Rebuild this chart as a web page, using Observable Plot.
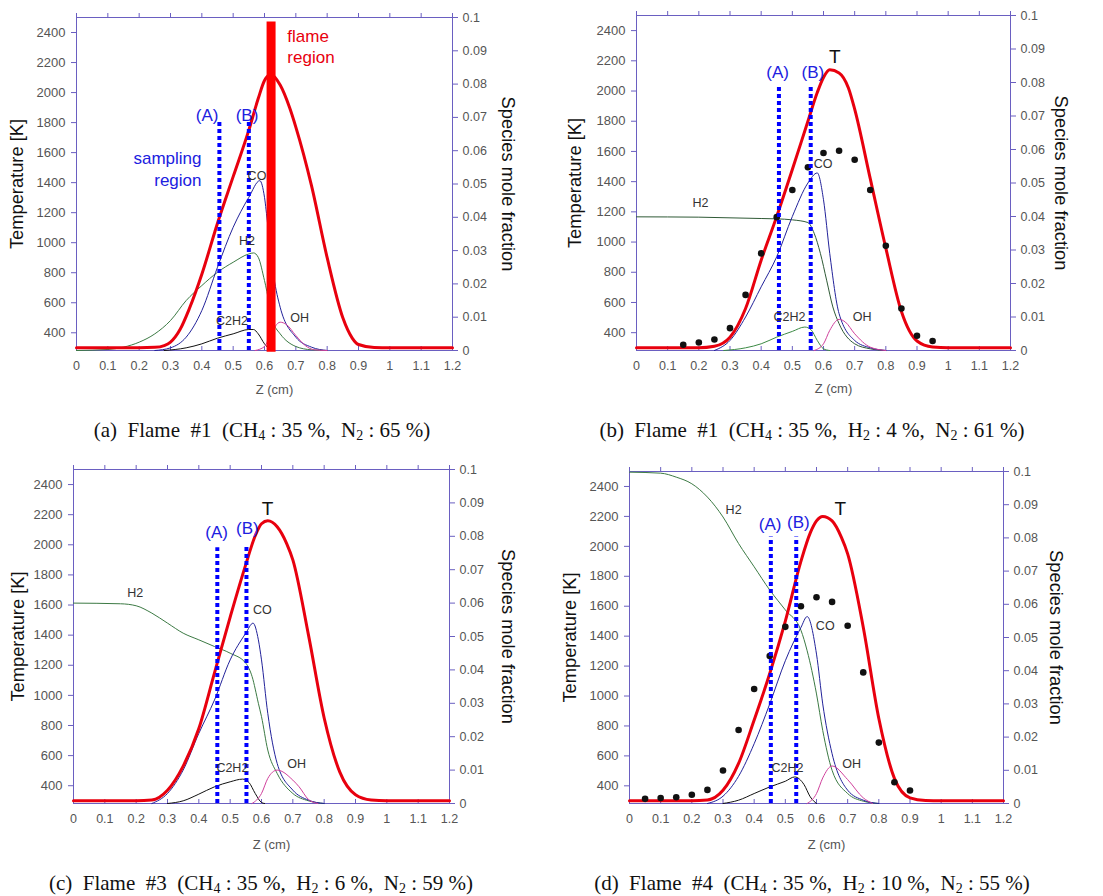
<!DOCTYPE html>
<html><head><meta charset="utf-8">
<script src="https://cdn.jsdelivr.net/npm/d3@7"></script>
<script src="https://cdn.jsdelivr.net/npm/@observablehq/plot@0.6"></script>
<style>
body{margin:0;background:#fff;}
#root{position:relative;width:1103px;height:896px;overflow:hidden;font-family:"Liberation Sans",Arial,sans-serif;background:#fff;}
.panel{position:absolute;}
.cap{position:absolute;font-family:"Liberation Serif","Times New Roman",serif;font-size:21px;white-space:pre;transform:translate(-50%,-50%);color:#111;}
.cap sub{font-size:14px;vertical-align:-3px;line-height:0;}
</style></head><body><div id="root"></div>
<script>
// ---------- data ----------
const zTicks = [0,0.1,0.2,0.3,0.4,0.5,0.6,0.7,0.8,0.9,1,1.1,1.2];
const tTicks = [400,600,800,1000,1200,1400,1600,1800,2000,2200,2400];
const fracTicks = [0,0.01,0.02,0.03,0.04,0.05,0.06,0.07,0.08,0.09,0.1];

// panel (a)
const a_T = [[0,300],[0.2,300],[0.25,303],[0.28,315],[0.3,338],[0.33,420],[0.36,560],[0.4,790],[0.45,1130],[0.5,1440],[0.55,1750],[0.58,1960],[0.6,2080],[0.62,2120],[0.65,2050],[0.68,1900],[0.7,1770],[0.75,1380],[0.8,900],[0.85,500],[0.88,365],[0.9,322],[0.95,302],[1.0,300],[1.2,300]];
const a_CO = [[0.25,0],[0.3,0.0008],[0.35,0.004],[0.4,0.012],[0.45,0.025],[0.5,0.037],[0.55,0.046],[0.585,0.051],[0.6,0.046],[0.61,0.038],[0.63,0.022],[0.65,0.013],[0.7,0.004],[0.75,0.001],[0.8,0]];
const a_H2 = [[0,0],[0.1,0.0003],[0.15,0.001],[0.2,0.0025],[0.25,0.005],[0.3,0.009],[0.35,0.015],[0.4,0.0195],[0.45,0.0235],[0.5,0.0265],[0.55,0.029],[0.565,0.0293],[0.58,0.028],[0.6,0.021],[0.63,0.008],[0.65,0.005],[0.7,0.0012],[0.75,0.0002],[0.8,0]];
const a_C2H2 = [[0.28,0],[0.35,0.0008],[0.4,0.002],[0.45,0.0037],[0.5,0.005],[0.55,0.0063],[0.565,0.0063],[0.58,0.005],[0.6,0.002],[0.62,0]];
const a_OH = [[0.57,0],[0.6,0.0012],[0.62,0.005],[0.65,0.0085],[0.67,0.0078],[0.7,0.0045],[0.73,0.0015],[0.76,0.0002],[0.8,0]];
const a_rules = [{z:0.456,top:1815},{z:0.55,top:1815}];
const a_ab = [{z:0.417,t:1849,s:"(A)"},{z:0.544,t:1849,s:"(B)"}];
const a_lbl = [{z:0.576,f:0.0525,s:"CO"},{z:0.544,f:0.033,s:"H2"},{z:0.496,f:0.009,s:"C2H2"},{z:0.712,f:0.0098,s:"OH"}];
const a_bar = [{z:0.621,lo:270,hi:2470}];

// panel (b)
const b_T = [[0,300],[0.2,300],[0.25,310],[0.3,370],[0.35,560],[0.4,880],[0.45,1170],[0.5,1480],[0.55,1800],[0.58,1990],[0.6,2090],[0.62,2140],[0.65,2120],[0.68,2020],[0.7,1880],[0.75,1420],[0.8,960],[0.85,540],[0.9,345],[0.95,305],[1.0,300],[1.2,300]];
const b_meas = [[0.15,320],[0.2,335],[0.25,355],[0.3,430],[0.35,650],[0.4,925],[0.45,1165],[0.5,1345],[0.55,1495],[0.6,1590],[0.65,1605],[0.7,1545],[0.75,1345],[0.8,975],[0.85,560],[0.9,380],[0.95,345]];
const b_H2 = [[0,0.0399],[0.2,0.0398],[0.3,0.0396],[0.4,0.0394],[0.45,0.0393],[0.5,0.039],[0.55,0.0382],[0.57,0.035],[0.59,0.029],[0.61,0.021],[0.63,0.013],[0.65,0.008],[0.7,0.002],[0.75,0.0005],[0.8,0]];
const b_CO = [[0.25,0],[0.3,0.003],[0.35,0.010],[0.4,0.019],[0.45,0.028],[0.5,0.040],[0.55,0.050],[0.58,0.053],[0.6,0.045],[0.62,0.029],[0.65,0.011],[0.7,0.003],[0.75,0.0008],[0.8,0]];
const b_C2H2 = [[0.28,0],[0.35,0.0008],[0.4,0.002],[0.45,0.004],[0.5,0.0057],[0.54,0.007],[0.56,0.0062],[0.58,0.003],[0.6,0.0005],[0.62,0]];
const b_OH = [[0.57,0],[0.6,0.002],[0.62,0.006],[0.65,0.0093],[0.67,0.0085],[0.7,0.005],[0.75,0.001],[0.8,0]];
const b_rules = [{z:0.457,top:2036},{z:0.559,top:2036}];
const b_ab = [{z:0.453,t:2120,s:"(A)"},{z:0.566,t:2120,s:"(B)"}];
const b_lbl = [{z:0.599,f:0.0558,s:"CO"},{z:0.205,f:0.0439,s:"H2"},{z:0.491,f:0.0099,s:"C2H2"},{z:0.724,f:0.0099,s:"OH"}];
const b_Tlbl = [{z:0.636,t:2224,s:"T"}];

// panel (c)
const c_T = [[0,300],[0.2,300],[0.25,305],[0.3,370],[0.35,530],[0.4,780],[0.45,1150],[0.5,1520],[0.55,1870],[0.58,2060],[0.6,2140],[0.62,2160],[0.65,2120],[0.68,2010],[0.7,1900],[0.75,1400],[0.8,850],[0.85,490],[0.9,340],[0.95,305],[1.0,300],[1.2,300]];
const c_H2 = [[0,0.060],[0.15,0.0598],[0.2,0.0592],[0.25,0.057],[0.3,0.054],[0.35,0.051],[0.4,0.049],[0.45,0.047],[0.5,0.045],[0.55,0.042],[0.57,0.038],[0.59,0.030],[0.6,0.026],[0.62,0.016],[0.65,0.009],[0.7,0.003],[0.75,0.0008],[0.8,0]];
const c_CO = [[0.25,0],[0.3,0.003],[0.35,0.010],[0.4,0.021],[0.45,0.031],[0.5,0.043],[0.55,0.051],[0.573,0.054],[0.59,0.049],[0.6,0.043],[0.62,0.027],[0.65,0.012],[0.7,0.004],[0.75,0.001],[0.8,0]];
const c_C2H2 = [[0.3,0],[0.35,0.0008],[0.4,0.0028],[0.45,0.005],[0.5,0.0065],[0.54,0.0073],[0.56,0.0063],[0.58,0.003],[0.6,0.0003],[0.61,0]];
const c_OH = [[0.57,0],[0.6,0.003],[0.62,0.0075],[0.65,0.010],[0.7,0.007],[0.72,0.005],[0.75,0.0012],[0.78,0]];
const c_rules = [{z:0.459,top:1980},{z:0.552,top:1998}];
const c_ab = [{z:0.457,t:2080,s:"(A)"},{z:0.555,t:2108,s:"(B)"}];
const c_lbl = [{z:0.603,f:0.058,s:"CO"},{z:0.197,f:0.063,s:"H2"},{z:0.507,f:0.0105,s:"C2H2"},{z:0.712,f:0.0117,s:"OH"}];
const c_Tlbl = [{z:0.619,t:2241,s:"T"}];

// panel (d)
const d_T = [[0,300],[0.2,300],[0.25,305],[0.3,370],[0.35,550],[0.4,840],[0.45,1150],[0.5,1500],[0.55,1900],[0.58,2090],[0.6,2170],[0.62,2200],[0.65,2170],[0.68,2060],[0.7,1950],[0.75,1460],[0.8,850],[0.85,450],[0.9,320],[0.95,302],[1.0,300],[1.2,300]];
const d_meas = [[0.05,313],[0.1,318],[0.15,324],[0.2,340],[0.25,373],[0.3,502],[0.35,773],[0.4,1047],[0.45,1267],[0.5,1462],[0.55,1600],[0.6,1660],[0.65,1629],[0.7,1469],[0.75,1158],[0.8,689],[0.85,424],[0.9,369]];
const d_H2 = [[0,0.0998],[0.1,0.0995],[0.15,0.0983],[0.2,0.0963],[0.25,0.0923],[0.3,0.0863],[0.35,0.0783],[0.4,0.0713],[0.45,0.0643],[0.5,0.0583],[0.55,0.0522],[0.57,0.046],[0.6,0.033],[0.62,0.022],[0.65,0.010],[0.7,0.003],[0.75,0.0007],[0.8,0]];
const d_CO = [[0.25,0],[0.3,0.0022],[0.35,0.0082],[0.4,0.018],[0.45,0.030],[0.5,0.043],[0.55,0.053],[0.57,0.0563],[0.6,0.045],[0.62,0.030],[0.65,0.015],[0.7,0.004],[0.75,0.001],[0.8,0]];
const d_C2H2 = [[0.3,0],[0.35,0.001],[0.4,0.003],[0.45,0.005],[0.5,0.0067],[0.53,0.008],[0.56,0.0057],[0.58,0.002],[0.6,0]];
const d_OH = [[0.57,0],[0.6,0.003],[0.62,0.0077],[0.65,0.0113],[0.7,0.0072],[0.75,0.0017],[0.78,0]];
const d_rules = [{z:0.4535,top:2062},{z:0.535,top:2062}];
const d_ab = [{z:0.451,t:2144,s:"(A)"},{z:0.542,t:2158,s:"(B)"}];
const d_lbl = [{z:0.628,f:0.0535,s:"CO"},{z:0.334,f:0.0883,s:"H2"},{z:0.507,f:0.0107,s:"C2H2"},{z:0.713,f:0.0119,s:"OH"}];
const d_Tlbl = [{z:0.676,t:2251,s:"T"}];

const captions = [
  '(a)&nbsp; Flame&nbsp; #1&nbsp; (CH<sub>4</sub> : 35 %,&nbsp; N<sub>2</sub> : 65 %)',
  '(b)&nbsp; Flame&nbsp; #1&nbsp; (CH<sub>4</sub> : 35 %,&nbsp; H<sub>2</sub> : 4 %,&nbsp; N<sub>2</sub> : 61 %)',
  '(c)&nbsp; Flame&nbsp; #3&nbsp; (CH<sub>4</sub> : 35 %,&nbsp; H<sub>2</sub> : 6 %,&nbsp; N<sub>2</sub> : 59 %)',
  '(d)&nbsp; Flame&nbsp; #4&nbsp; (CH<sub>4</sub> : 35 %,&nbsp; H<sub>2</sub> : 10 %,&nbsp; N<sub>2</sub> : 55 %)'
];

// ---------- drawing ----------
const T0 = 282, T1 = 2500;
const fracToT = f => T0 + f / 0.1 * (T1 - T0);
const tToFrac = t => (t - T0) / (T1 - T0) * 0.1;
const AX = "#6a5fc1";
const C = {T:"#e8000e", CO:"#22229a", H2:"#3c7a44", C2H2:"#111", OH:"#d0409c", blue:"#0000ff"};
const root = document.getElementById("root");

function panel(p) {
  const marks = [
    Plot.frame({stroke: AX}),
    Plot.axisX({anchor:"bottom", ticks: zTicks, tickSize: 0, tickPadding: 11, tickFormat: d => String(d), fill:"#555", fontSize: 12.5, label:null}),
    Plot.axisX({anchor:"bottom", ticks: zTicks, tickSize: 4, dy: -4, text: null, stroke: AX, label:null}),
    Plot.axisX({anchor:"top", ticks: zTicks, tickSize: 5, text: null, stroke: AX, label:null}),
    Plot.axisY({anchor:"left", ticks: tTicks, tickSize: 5, tickPadding: 6, tickFormat: d => String(d), stroke: AX, fill:"#555", fontSize: 13, label:null}),
    Plot.axisY({anchor:"right", ticks: fracTicks.map(fracToT), tickSize: 5, tickPadding: 5, tickFormat: t => String(+tToFrac(t).toFixed(2)), stroke: AX, fill:"#555", fontSize: 12.5, label:null}),
    Plot.text(["Temperature [K]"], {frameAnchor:"left", textAnchor:"middle", dx: p.tdx, rotate:-90, fontSize:18.3, fill:"#111"}),
    Plot.text(["Species mole fraction"], {frameAnchor:"right", textAnchor:"middle", dx: p.sdx, rotate:90, fontSize:18.3, fill:"#111"}),
    Plot.text(["Z (cm)"], {frameAnchor:"bottom", dy: p.zdy, dx: 10, fontSize:13, fill:"#555"})
  ];
  for (const s of p.species) {
    marks.push(Plot.line(s.data, {x: d => d[0], y: d => fracToT(d[1]), stroke: s.color, strokeWidth: 1, curve: "monotone-x"}));
  }
  marks.push(Plot.line(p.T, {x: d => d[0], y: d => d[1], stroke: C.T, strokeWidth: 3, curve: "monotone-x"}));
  if (p.meas) marks.push(Plot.dot(p.meas, {x: d => d[0], y: d => d[1], r: 3.3, fill: "#111"}));
  marks.push(Plot.ruleX(p.rules, {x: "z", y1: T0, y2: "top", stroke: C.blue, strokeWidth: 4, strokeDasharray: "4,3"}));
  marks.push(Plot.text(p.ab, {x: "z", y: "t", text: "s", fill: "#2020e0", fontSize: 17}));
  marks.push(Plot.text(p.lbl, {x: "z", y: d => fracToT(d.f), text: "s", fill: "#333", fontSize: 12.5}));
  if (p.Tlbl) marks.push(Plot.text(p.Tlbl, {x: "z", y: "t", text: "s", fill: "#111", fontSize: 19}));
  if (p.extra) marks.push(...p.extra);
  const chart = Plot.plot({
    width: p.w, height: p.h,
    marginLeft: p.ml, marginRight: p.mr, marginTop: p.mt, marginBottom: p.mb,
    x: {domain: [0, 1.2], axis: null},
    y: {domain: [T0, T1], axis: null},
    style: {background: "transparent", fontFamily: "'Liberation Sans', Arial, sans-serif", fontSize: "12px", overflow: "visible"},
    marks
  });
  chart.classList.add("panel");
  chart.style.left = p.left + "px";
  chart.style.top = p.top + "px";
  root.appendChild(chart);
  const cap = document.createElement("div");
  cap.className = "cap";
  cap.innerHTML = p.cap;
  cap.style.left = p.cx + "px";
  cap.style.top = p.cy + "px";
  root.appendChild(cap);
}

panel({left:0, top:0, w:550, h:400, ml:76, mr:98, mt:17, mb:50, tdx:-59, sdx:55, zdy:43,
  T:a_T, rules:a_rules, ab:a_ab, lbl:a_lbl,
  species:[{data:a_H2,color:C.H2},{data:a_CO,color:C.CO},{data:a_C2H2,color:C.C2H2},{data:a_OH,color:C.OH}],
  extra:[
    Plot.text([{z:0.399,t:1497,s:"sampling\nregion"}], {x:"z", y:"t", text:"s", textAnchor:"end", lineHeight:1.25, fill:"#2020e0", fontSize:17}),
    Plot.text([{z:0.673,t:2313,s:"flame\nregion"}], {x:"z", y:"t", text:"s", textAnchor:"start", lineHeight:1.25, fill:"#e8000e", fontSize:17}),
    Plot.ruleX(a_bar, {x:"z", y1:"lo", y2:"hi", stroke:"#ff0000", strokeWidth:9})
  ],
  cap:captions[0], cx:262, cy:430});

panel({left:550, top:0, w:553, h:400, ml:86, mr:93, mt:15, mb:50, tdx:-61, sdx:50, zdy:42,
  T:b_T, meas:b_meas, rules:b_rules, ab:b_ab, lbl:b_lbl, Tlbl:b_Tlbl,
  species:[{data:b_H2,color:"#2f5a36"},{data:b_CO,color:C.CO},{data:b_C2H2,color:"#3c8a44"},{data:b_OH,color:C.OH}],
  cap:captions[1], cx:812, cy:430});

panel({left:0, top:440, w:550, h:420, ml:73, mr:101, mt:29, mb:57, tdx:-55, sdx:58, zdy:45,
  T:c_T, rules:c_rules, ab:c_ab, lbl:c_lbl, Tlbl:c_Tlbl,
  species:[{data:c_H2,color:C.H2},{data:c_CO,color:C.CO},{data:c_C2H2,color:C.C2H2},{data:c_OH,color:C.OH}],
  cap:captions[2], cx:261, cy:883});

panel({left:550, top:440, w:553, h:420, ml:79, mr:100, mt:31, mb:57, tdx:-59, sdx:52, zdy:45,
  T:d_T, meas:d_meas, rules:d_rules, ab:d_ab, lbl:d_lbl, Tlbl:d_Tlbl,
  species:[{data:d_H2,color:C.H2},{data:d_CO,color:C.CO},{data:d_C2H2,color:C.C2H2},{data:d_OH,color:C.OH}],
  cap:captions[3], cx:812, cy:883});
</script></body></html>
